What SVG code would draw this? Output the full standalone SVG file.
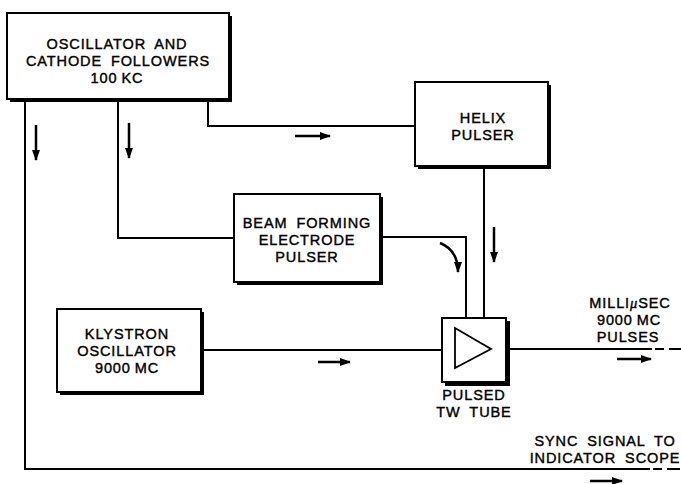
<svg xmlns="http://www.w3.org/2000/svg" width="681" height="484" viewBox="0 0 681 484">
<style>
.box{fill:#fff;stroke:#000;stroke-width:2}
.sh{fill:#000}
.ln{fill:none;stroke:#000;stroke-width:2}
.ar{fill:none;stroke:#000;stroke-width:2.5;marker-end:url(#ah)}
text{font-family:"Liberation Sans",Arial,sans-serif;font-size:14.5px;fill:#000;stroke:#000;stroke-width:0.4;text-anchor:middle;letter-spacing:0.9px;word-spacing:4px}
text.ns{word-spacing:-1px}
</style>
<defs>
<marker id="ah" markerWidth="11" markerHeight="8" refX="10" refY="4" orient="auto" markerUnits="userSpaceOnUse"><path d="M0,0 L11,4 L0,8 Z" fill="#000"/></marker>
</defs>
<rect width="681" height="484" fill="#fff"/>
<g id="connectors">
<path class="ln" d="M208,100 V126 H415"/>
<path class="ln" d="M118,100 V238 H234"/>
<path class="ln" d="M381,237 H466 V318"/>
<path class="ln" d="M484,168 V318"/>
<path class="ln" d="M202,350 H442"/>
<path class="ln" d="M509,349 H652"/>
<path class="ln" d="M655,349 H664 M669,349 H681"/>
<path class="ln" d="M25,100 V469 H650"/>
<path class="ln" d="M653,469 H662 M667,469 H680"/>
<path class="ar" d="M36,125 V160"/>
<path class="ar" d="M129,123 V158"/>
<path class="ar" d="M295,136 H330"/>
<path class="ar" d="M494,227 V262"/>
<path class="ar" d="M440,243 Q458,250 458,272"/>
<path class="ar" d="M318,362 H350"/>
<path class="ar" d="M617,359 H651"/>
<path class="ar" d="M590,481 H622"/>
</g>
<g id="oscillator">
<rect class="sh" x="10" y="16" width="222" height="86"/>
<rect class="box" x="7" y="13" width="222" height="86"/>
<text x="117" y="49">OSCILLATOR AND</text>
<text x="118" y="66">CATHODE FOLLOWERS</text>
<text class="ns" x="117" y="83">100 KC</text>
</g>
<g id="helix">
<rect class="sh" x="418" y="85" width="133" height="84"/>
<rect class="box" x="415" y="82" width="133" height="84"/>
<text x="483" y="123">HELIX</text>
<text x="483" y="140">PULSER</text>
</g>
<g id="beam">
<rect class="sh" x="237" y="197" width="146" height="88"/>
<rect class="box" x="234" y="194" width="146" height="88"/>
<text x="307" y="228">BEAM FORMING</text>
<text x="307" y="245">ELECTRODE</text>
<text x="307" y="262">PULSER</text>
</g>
<g id="klystron">
<rect class="sh" x="60" y="312" width="144" height="83"/>
<rect class="box" x="57" y="309" width="144" height="83"/>
<text x="127" y="339">KLYSTRON</text>
<text x="127" y="356">OSCILLATOR</text>
<text class="ns" x="127" y="373">9000 MC</text>
</g>
<g id="twtube">
<rect class="sh" x="445" y="321" width="65" height="65"/>
<rect class="box" x="442" y="318" width="64" height="64"/>
<path d="M455,328 L455,368 L491,349 Z" fill="none" stroke="#000" stroke-width="1.8"/>
<text x="474" y="400">PULSED</text>
<text x="474" y="417">TW TUBE</text>
</g>
<g id="labels">
<text x="630" y="308">MILLI<tspan font-style="italic" font-family="'Liberation Serif',serif">μ</tspan>SEC</text>
<text class="ns" x="629" y="325">9000 MC</text>
<text x="628" y="342">PULSES</text>
<text x="605" y="446">SYNC SIGNAL TO</text>
<text x="605" y="463">INDICATOR SCOPE</text>
</g>
</svg>
